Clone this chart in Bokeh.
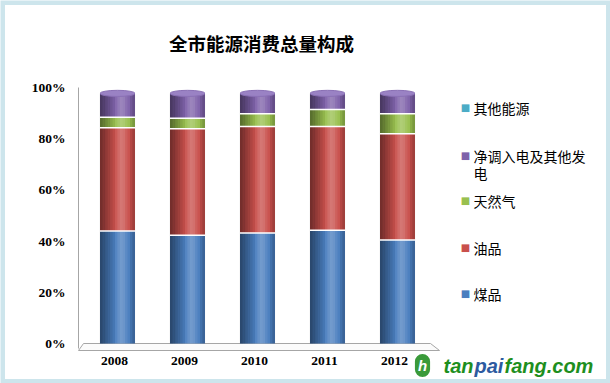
import numpy as np
from bokeh.plotting import figure
from bokeh.models import Label, BoxAnnotation, Range1d
from bokeh.core.properties import value
from bokeh.embed import file_html
from bokeh.resources import INLINE

# ---- data (percent of total) ----
years = ["2008", "2009", "2010", "2011", "2012"]
coal = [43.9, 42.3, 43.2, 44.2, 40.4]      # 煤品
oil = [40.4, 41.6, 41.6, 40.6, 41.5]       # 油品
gas = [4.1, 4.1, 4.9, 6.6, 7.8]            # 天然气
elec = [9.1, 9.5, 7.8, 6.1, 7.8]           # 净调入电及其他发电
other = [0.2, 0.2, 0.2, 0.2, 0.2]          # 其他能源
series_names = ["煤品", "油品", "天然气", "净调入电及其他发电", "其他能源"]
series_colors = ["#4a7ebf", "#c9504c", "#99c04f", "#7f62aa", "#4bacc6"]
legend_order = ["其他能源", "净调入电及其他发电", "天然气", "油品", "煤品"]
y_ticks = [0, 20, 40, 60, 80, 100]
y_tick_labels = ["0%", "20%", "40%", "60%", "80%", "100%"]
title_text = "全市能源消费总量构成"

W, H = 610, 383
# reference-pixel geometry -> data coordinates
X0PX, XSTEP = 117.0, 70.0
Y0PX, YSTEP = 343.0, 2.56
def dx(px):
    return (px - X0PX) / XSTEP
def dy(py):
    return (Y0PX - py) / YSTEP

p = figure(width=W, height=H, output_backend="svg", toolbar_location=None,
           x_range=Range1d(dx(0), dx(W)), y_range=Range1d(dy(H), dy(0)),
           min_border=0)
p.axis.visible = False
p.xgrid.visible = False
p.ygrid.visible = False
p.outline_line_color = None
p.background_fill_color = "white"
p.border_fill_color = "white"

xs = np.arange(len(years), dtype=float)
bw = 0.5

# left wall line and floor
p.segment(x0=[dx(78)], y0=[dy(87)], x1=[dx(78)], y1=[dy(348)], line_color="#a6a6a6", line_width=1)
p.patch(x=[dx(83), dx(430), dx(439), dx(78)], y=[0, 0, dy(350), dy(350)],
        fill_color="#fbfbfb", line_color="#a6a6a6", line_width=1)

# y tick labels
p.text(x=[dx(65)] * len(y_ticks), y=y_ticks, text=y_tick_labels, text_align="right",
       text_baseline="middle", text_font=value("Liberation Serif"), text_font_style="bold",
       text_font_size="13.5px", text_color="black")
# x tick labels
p.text(x=xs - 3.0 / XSTEP, y=[dy(360)] * len(years), text=years, text_align="center",
       text_baseline="middle", text_font=value("Liberation Serif"), text_font_style="bold",
       text_font_size="13.5px", text_color="black")

# stacked bars
stack = [np.array(coal), np.array(oil), np.array(gas), np.array(elec), np.array(other)]
bottom = np.zeros(len(years))
bounds = []
for vals, col in zip(stack, series_colors):
    top = bottom + vals
    p.vbar(x=xs, width=bw, bottom=bottom, top=top, fill_color=col, line_color=None)
    bounds.append(top.copy())
    bottom = top
totals = bottom

# cylinder shading strips
n = 14
for k in range(n):
    t = (k + 0.5) / n
    off = -bw / 2 + (k + 0.5) * bw / n
    dark = max(0.0, 0.45 * (1 - t / 0.45)) if t < 0.45 else 0.0
    dark = max(dark, 0.25 * max(0.0, (t - 0.82) / 0.18))
    hi = 0.22 * np.exp(-((t - 0.62) / 0.14) ** 2)
    if dark >= hi:
        c, a = "black", dark
    else:
        c, a = "white", hi
    if a > 0.01:
        p.vbar(x=xs + off, width=bw / n + 0.002, bottom=0, top=totals,
               fill_color=c, fill_alpha=a, line_color=None)

# segment separators
for b in bounds[:3]:
    p.segment(x0=xs - bw / 2, y0=b, x1=xs + bw / 2, y1=b, line_color="white", line_width=1.5)

# cylinder top
p.ellipse(x=xs, y=totals, width=bw, height=2.4, fill_color="#9a82c4",
          line_color="#8a70b5", line_width=1)

# title
p.add_layout(Label(x=dx(261), y=dy(42), text=title_text, text_align="center",
                   text_baseline="middle", text_font="Noto Sans CJK SC",
                   text_font_size="18.5px", text_font_style="bold", text_color="black"))

# legend (manual)
legend_y = {"其他能源": [107], "净调入电及其他发电": [155, 172], "天然气": [200],
            "油品": [247], "煤品": [293]}
for name in legend_order:
    col = series_colors[series_names.index(name)]
    ys = legend_y[name]
    p.add_layout(Label(x=dx(465), y=dy(ys[0]), text="■", text_align="center",
                       text_baseline="middle", text_font="DejaVu Sans",
                       text_font_size="10px", text_color=col))
    lines = [name] if len(ys) == 1 else [name[:-1], name[-1]]
    for line, yy in zip(lines, ys):
        p.add_layout(Label(x=dx(473), y=dy(yy), text=line, text_align="left",
                           text_baseline="middle", text_font="Noto Sans CJK SC",
                           text_font_size="14px", text_color="#000000"))

# watermark
p.add_layout(Label(x=dx(422), y=dy(365), text="h", text_align="center",
                   text_baseline="middle", text_font="Liberation Sans",
                   text_font_style="bold italic", text_font_size="15px",
                   text_color="white", background_fill_color="#3a9a3a",
                   padding=3, border_radius=10))
wm_x = 443
for part, col, w in [("tan", "#1e8f1e", 31), ("pai", "#2c5aa0", 30), ("fang.com", "#1e8f1e", 93)]:
    p.add_layout(Label(x=dx(wm_x), y=dy(365), text=part, text_align="left",
                       text_baseline="middle", text_font="Liberation Sans",
                       text_font_style="bold italic", text_font_size="20px",
                       text_color=col))
    wm_x += w

# outer frame
p.add_layout(BoxAnnotation(left=dx(0), right=dx(W), bottom=dy(H), top=dy(0),
                           fill_color=None, line_color="#58a9c0", line_width=9))

open("out.html", "w").write(file_html(p, INLINE))
